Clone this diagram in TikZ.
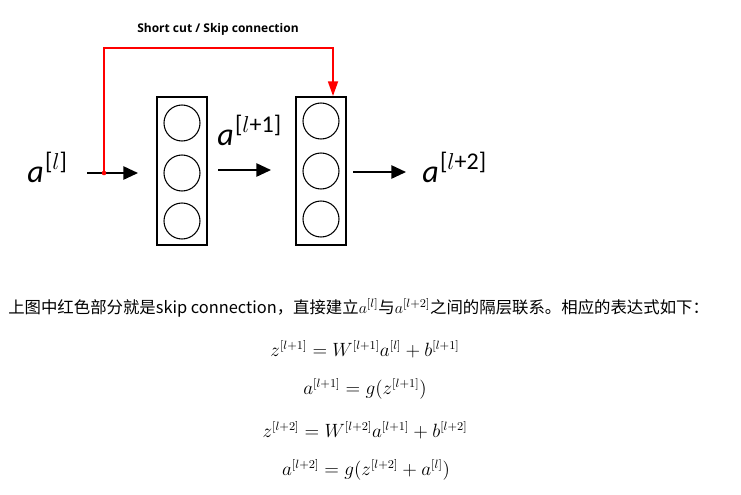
\documentclass[tikz,border=0pt]{standalone}
\usepackage{fontspec}
\setsansfont{Open Sans}
\newfontfamily\cjk{Noto Sans CJK SC}
\newfontfamily\carlito{Carlito}
\usetikzlibrary{arrows.meta}

\begin{document}
\begin{tikzpicture}[x=0.75pt,y=-0.75pt,
  layer/.style={draw, line width=1.0pt, minimum width=37.5pt, minimum height=111pt, inner sep=0pt},
  neuron/.style={draw, circle, line width=0.8pt, minimum size=27pt, inner sep=0pt},
  flow/.style={line width=1.2pt, -{Triangle[length=11pt,width=10pt]}},
  skip/.style={red, line width=1.3pt, -{Triangle[length=11pt,width=7.5pt]}},
  act/.style={anchor=base west, inner sep=0pt, font=\carlito\fontsize{24}{28}\selectfont},
  eq/.style={font=\fontsize{13.5}{16}\selectfont}]
\useasboundingbox (0,0) rectangle (741,494);

\coordinate (In1) at (87,173);
\coordinate (Out1) at (138,173);
\coordinate (In2) at (218,170);
\coordinate (Out2) at (271,170);
\coordinate (In3) at (353,172);
\coordinate (Out3) at (406,172);
\coordinate (Split) at (104,173);
\coordinate (Top) at (104,48);
\coordinate (Tip) at (333,96);

\node[layer] (L1) at (182,171) {};
\node[layer] (L2) at (321,171) {};
\node[neuron] (N11) at (182,123) {};
\node[neuron] (N12) at (182,173) {};
\node[neuron] (N13) at (182,221) {};
\node[neuron] (N21) at (321,121) {};
\node[neuron] (N22) at (321,171) {};
\node[neuron] (N23) at (321,219) {};

\node[act] (A0) at (27,182) {\textit{a}\kern1pt\raisebox{0.38em}{\fontsize{18}{21}\selectfont[$l$]}};
\node[act] (A1) at (217,145) {\textit{a}\kern1pt\raisebox{0.38em}{\fontsize{18}{21}\selectfont[$l$+1]}};
\node[act] (A2) at (422,182) {\textit{a}\kern1pt\raisebox{0.38em}{\fontsize{18}{21}\selectfont[$l$+2]}};

\draw[flow] (In1) -- (Out1);
\draw[flow] (In2) -- (Out2);
\draw[flow] (In3) -- (Out3);

\node[font=\sffamily\bfseries\fontsize{9}{11}\selectfont] (Title) at (218,29) {Short cut / Skip connection};
\draw[skip] (Split) -- (Top) -| (Tip);
\fill[red] (Split) circle (2.3);

\node[anchor=base west, font=\cjk\fontsize{12.3}{15}\selectfont, inner sep=0pt] (Note) at (8,313)
  {上图中红色部分就是skip connection，直接建立$a^{[l]}$与$a^{[l+2]}$之间的隔层联系。相应的表达式如下：};

\node[eq] (E1) at (365,349) {$z^{[l+1]}=W^{[l+1]}a^{[l]}+b^{[l+1]}$};
\node[eq] (E2) at (365,389) {$a^{[l+1]}=g(z^{[l+1]})$};
\node[eq] (E3) at (365,430) {$z^{[l+2]}=W^{[l+2]}a^{[l+1]}+b^{[l+2]}$};
\node[eq] (E4) at (366,470) {$a^{[l+2]}=g(z^{[l+2]}+a^{[l]})$};
\end{tikzpicture}
\end{document}
